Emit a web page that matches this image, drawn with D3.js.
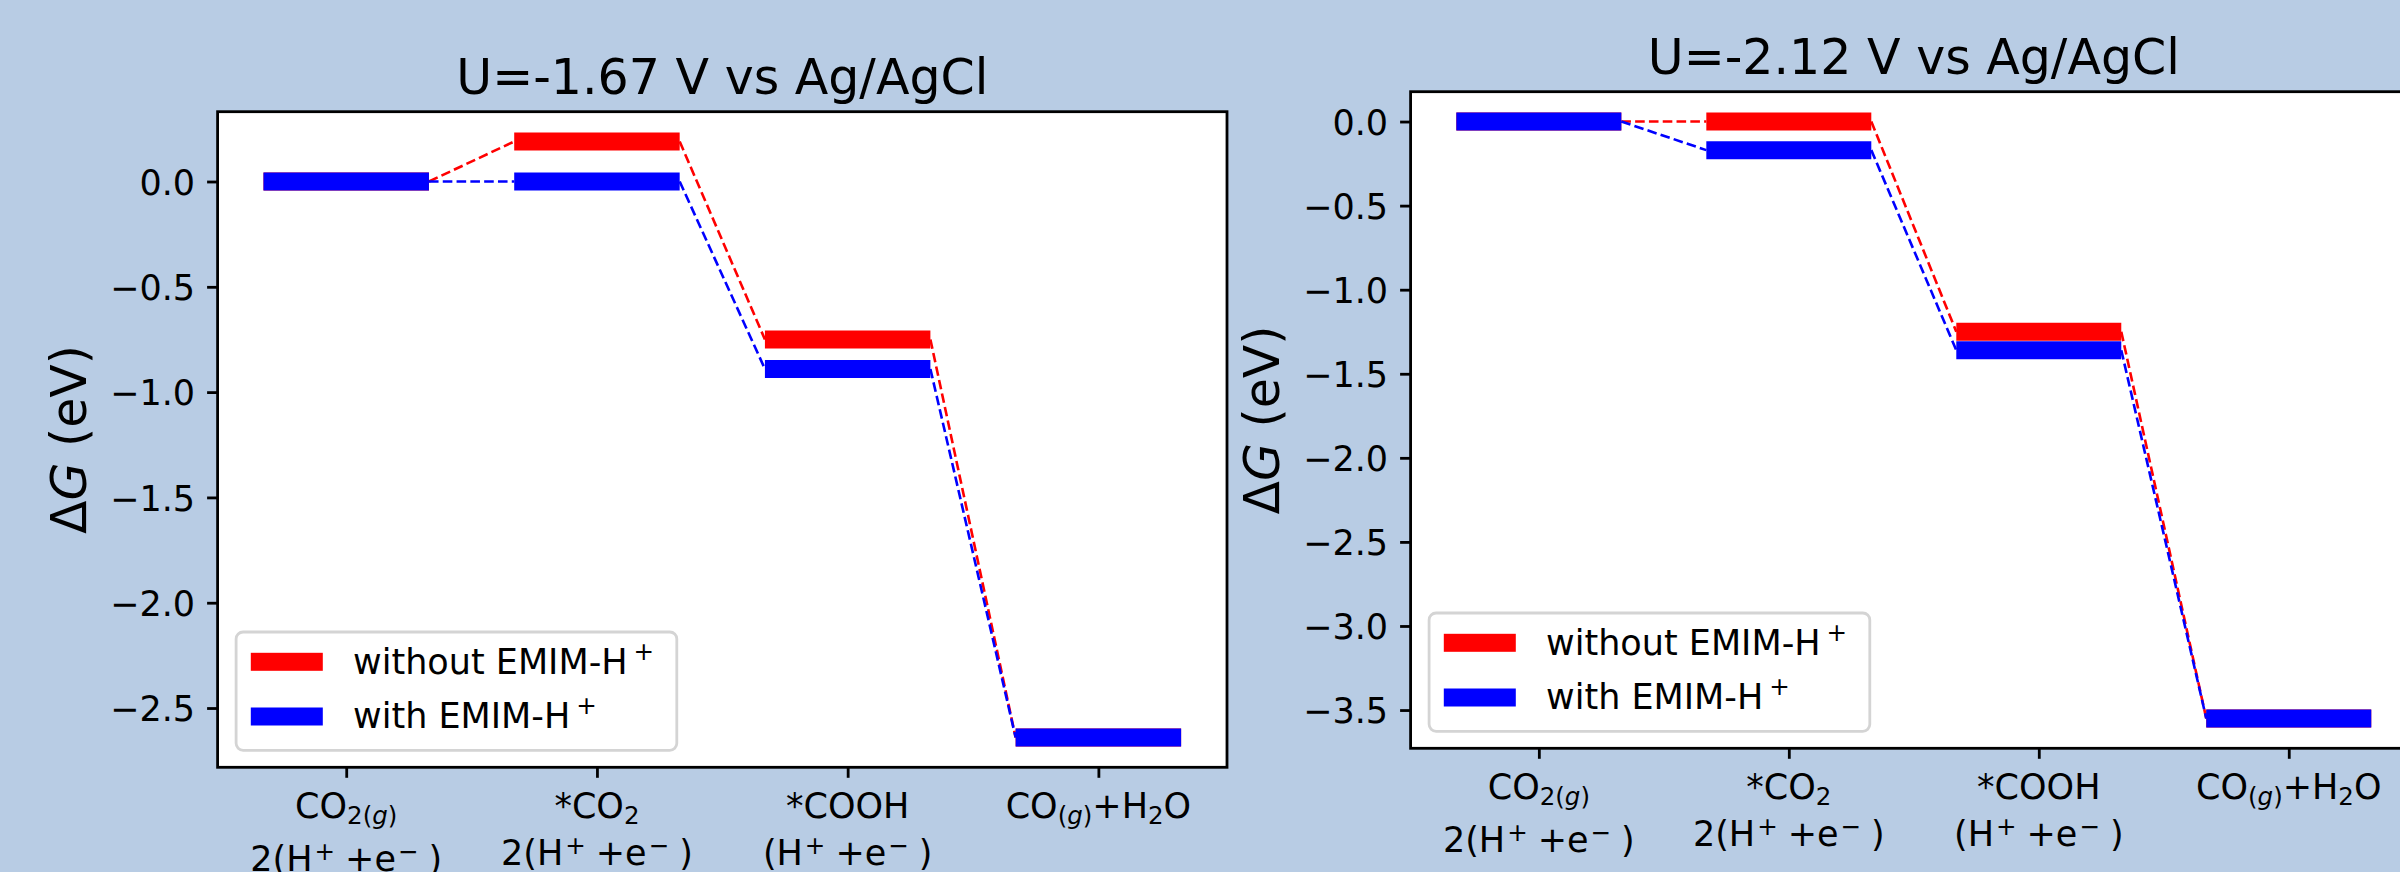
<!DOCTYPE html>
<html>
<head>
<meta charset="utf-8">
<script src="https://cdn.jsdelivr.net/npm/d3@7"></script>
<style>
    body { margin: 0; background-color: #b8cce4; }
    svg { display: block; font-family: 'DejaVu Sans', sans-serif; }
</style>
</head>
<body>
<div id="viz"></div>
<script>
// valores

var steps = [0, 1, 2, 3];
var stepLabels = [
    ['CO_{2(|g|)}', '2(H^{+}+e^{−})'],
    ['*CO_{2}', '2(H^{+}+e^{−})'],
    ['*COOH', '(H^{+}+e^{−})'],
    ['CO_{(|g|)}+H_{2}O']
];
var seriesNames = ['without EMIM-H^{+}', 'with EMIM-H^{+}'];
var seriesColors = ['#ff0000', '#0000ff'];
var titles = ['U=-1.67 V vs Ag/AgCl', 'U=-2.12 V vs Ag/AgCl'];
var yLabel = 'Δ|G| (eV)';

var without167 = [0, 0.19, -0.75, -2.64];
var with167 = [0, 0, -0.89, -2.64];
var without212 = [0, 0, -1.25, -3.55];
var with212 = [0, -0.17, -1.36, -3.55];

var yTicks167 = [0, -0.5, -1, -1.5, -2, -2.5];
var yTicks212 = [0, -0.5, -1, -1.5, -2, -2.5, -3, -3.5];

// layout
var W = 2400, H = 872;
var halfBar = 0.33;
var tickFont = 35, bigFont = 49;

var panels = [
    {title: titles[0], series: [without167, with167], ticks: yTicks167, l: 217.6, r: 1227, t: 111.7, b: 767.3},
    {title: titles[1], series: [without212, with212], ticks: yTicks212, l: 1410.6, r: 2417, t: 91.7, b: 748.3}
];

var svg = d3
    .select('#viz')
    .append('svg')
    .attr('width', W)
    .attr('height', H)
    ;

svg.append('rect')
    .attr('width', W)
    .attr('height', H)
    .attr('fill', '#b8cce4')
    ;

// texto com sub/sobrescrito - text with sub/superscripts
function richText(el, markup, size, supShift, preGap, postGap) {
    var parts = [];
    var mode = 'n', ital = false, buf = '';
    function flush() {
        if (buf) parts.push({t: buf, mode: mode, ital: ital});
        buf = '';
    }
    for (var i = 0; i < markup.length; i++) {
        var c = markup[i];
        if ((c == '_' || c == '^') && markup[i + 1] == '{') { flush(); mode = c == '_' ? 'sub' : 'sup'; i++; }
        else if (c == '}' && mode != 'n') { flush(); mode = 'n'; }
        else if (c == '|') { flush(); ital = !ital; }
        else buf += c;
    }
    flush();

    var shift = 0, gap = 0;
    parts.forEach(function(p) {
        var target = p.mode == 'sub' ? size * 0.17 : (p.mode == 'sup' ? -supShift : 0);
        if (p.mode == 'sup') gap += preGap;
        el.append('tspan')
            .text(p.t)
            .attr('dy', target - shift)
            .attr('dx', gap)
            .attr('font-size', p.mode == 'n' ? size : size * 0.7)
            .attr('font-style', p.ital ? 'italic' : 'normal')
            ;
        gap = p.mode == 'sup' ? postGap : 0;
        shift = target;
    });
    return el;
}

function drawPanel(p) {

    var allVals = d3.merge(p.series);
    var yExt = d3.extent(allVals);
    var yPad = 0.05 * (yExt[1] - yExt[0]);
    var xExt = [steps[0] - halfBar, steps[steps.length - 1] + halfBar];
    var xPad = 0.05 * (xExt[1] - xExt[0]);

    var x = d3.scaleLinear()
        .domain([xExt[0] - xPad, xExt[1] + xPad])
        .range([p.l, p.r]);
    var y = d3.scaleLinear()
        .domain([yExt[0] - yPad, yExt[1] + yPad])
        .range([p.b, p.t]);

    var g = svg.append('g');

    g.append('rect')
        .attr('x', p.l)
        .attr('y', p.t)
        .attr('width', p.r - p.l)
        .attr('height', p.b - p.t)
        .attr('fill', 'white')
        ;

    // linhas tracejadas e niveis - dashed connectors and levels
    p.series.forEach(function(vals, si) {
        var links = d3.pairs(steps.map(function(s, i) { return {s: s, v: vals[i]}; }));

        g.selectAll('line.link' + si)
            .data(links)
            .enter()
            .append('line')
            .attr('class', 'link' + si)
            .attr('x1', function(d) { return x(d[0].s + halfBar); })
            .attr('y1', function(d) { return y(d[0].v); })
            .attr('x2', function(d) { return x(d[1].s - halfBar); })
            .attr('y2', function(d) { return y(d[1].v); })
            .attr('stroke', seriesColors[si])
            .attr('stroke-width', 2.6)
            .attr('stroke-dasharray', '9.6,4.2')
            ;

        g.selectAll('line.level' + si)
            .data(vals)
            .enter()
            .append('line')
            .attr('class', 'level' + si)
            .attr('x1', function(d, i) { return x(steps[i] - halfBar); })
            .attr('x2', function(d, i) { return x(steps[i] + halfBar); })
            .attr('y1', function(d) { return y(d); })
            .attr('y2', function(d) { return y(d); })
            .attr('stroke', seriesColors[si])
            .attr('stroke-width', 18)
            ;
    });

    // eixos - axes
    var yAxis = g.append('g')
        .attr('transform', 'translate(' + p.l + ',0)')
        .call(d3.axisLeft(y)
            .tickValues(p.ticks)
            .tickSize(10.5)
            .tickPadding(12)
            .tickFormat(d3.format('.1f')))
        ;
    yAxis.select('.domain').remove();
    yAxis.selectAll('line').attr('stroke-width', 2.8);
    yAxis.selectAll('text')
        .attr('font-size', tickFont)
        .attr('font-family', 'DejaVu Sans')
        .attr('dy', '0.36em')
        ;

    var xAxis = g.append('g')
        .attr('transform', 'translate(0,' + p.b + ')')
        .call(d3.axisBottom(x)
            .tickValues(steps)
            .tickSize(10.5)
            .tickFormat(''))
        ;
    xAxis.select('.domain').remove();
    xAxis.selectAll('line').attr('stroke-width', 2.8);

    stepLabels.forEach(function(lines, i) {
        var extra = lines[0].indexOf('_{2(') >= 0 ? 6 : 0;
        lines.forEach(function(line, li) {
            var t = g.append('text')
                .attr('x', x(steps[i]))
                .attr('y', p.b + 51 + li * (47 + extra))
                .attr('text-anchor', 'middle')
                .attr('fill', 'black')
                ;
            richText(t, line, tickFont, 11.5, 2, 10);
        });
    });

    g.append('rect')
        .attr('x', p.l)
        .attr('y', p.t)
        .attr('width', p.r - p.l)
        .attr('height', p.b - p.t)
        .attr('fill', 'none')
        .attr('stroke', 'black')
        .attr('stroke-width', 2.8)
        ;

    // titulo e rotulo - title and label
    g.append('text')
        .text(p.title)
        .attr('x', (p.l + p.r) / 2)
        .attr('y', p.t - 17.5)
        .attr('text-anchor', 'middle')
        .attr('font-size', bigFont)
        ;

    var yl = g.append('text')
        .attr('transform', 'translate(' + (p.l - 131.6) + ',' + ((p.t + p.b) / 2) + ') rotate(-90)')
        .attr('text-anchor', 'middle')
        ;
    richText(yl, yLabel, bigFont, 0, 0, 0);

    // legenda - legend
    var lw = 440.7, lh = 118.3;
    var lx = p.l + 18.5, ly = p.b - 17 - lh;

    var leg = g.append('g')
        .attr('transform', 'translate(' + lx + ',' + ly + ')')
        ;
    leg.append('rect')
        .attr('width', lw)
        .attr('height', lh)
        .attr('rx', 7)
        .attr('fill', 'white')
        .attr('stroke', '#d4d4d4')
        .attr('stroke-width', 2.8)
        ;
    var rows = leg.selectAll('g.row')
        .data(seriesNames)
        .enter()
        .append('g')
        .attr('class', 'row')
        .attr('transform', function(d, i) { return 'translate(0,' + (29.8 + i * 54.7) + ')'; })
        ;
    rows.append('rect')
        .attr('x', 14.7)
        .attr('y', -9)
        .attr('width', 72)
        .attr('height', 18)
        .attr('fill', function(d, i) { return seriesColors[i]; })
        ;
    rows.each(function(d) {
        var t = d3.select(this)
            .append('text')
            .attr('x', 117)
            .attr('y', 11.8)
            ;
        richText(t, d, tickFont, 14, 6, 0);
    });
}

panels.forEach(drawPanel);
</script>
</body>
</html>
